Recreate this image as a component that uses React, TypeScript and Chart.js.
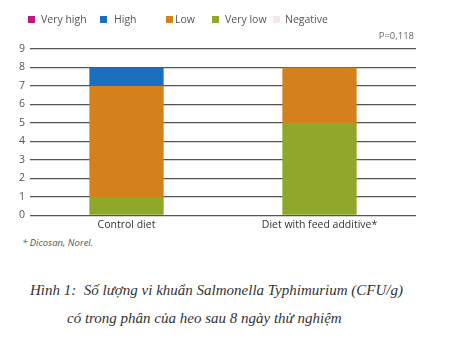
import React, { useEffect, useRef } from "react";
import { Chart, registerables } from "chart.js";

Chart.register(...registerables);

const categories = ["Control diet", "Diet with feed additive*"];
const seriesNames = ["Very high", "High", "Low", "Very low", "Negative"];
const veryHigh = [0, 0];
const high = [1, 0];
const low = [6, 3];
const veryLow = [1, 5];
const negative = [0, 0];
const yTicks = [0, 1, 2, 3, 4, 5, 6, 7, 8, 9];
const pValueText = "P=0,118";
const footnote = "* Dicosan, Norel.";
const captionLine1 = "Hình 1:  Số lượng vi khuẩn Salmonella Typhimurium (CFU/g)";
const captionLine2 = "có trong phân của heo sau 8 ngày thử nghiệm";

const colors: Record<string, string> = {
  "Very high": "#c0177c",
  High: "#1b6fc0",
  Low: "#d4801b",
  "Very low": "#8fa829",
  Negative: "#f4e6ec",
};

// legend layout (box left, text left) in px within the wrapper
const legendBoxX = [20, 92, 158, 204, 265];
const legendTextX = [33, 106, 167, 217, 277];

const pPlugin = {
  id: "pvalue",
  afterDraw(chart: any) {
    const { ctx, chartArea } = chart;
    ctx.save();
    ctx.font = "9.5px 'Open Sans'";
    ctx.fillStyle = "#666";
    ctx.textAlign = "right";
    ctx.textBaseline = "middle";
    ctx.fillText(pValueText, chartArea.right - 2, chartArea.top - 13);
    ctx.restore();
  },
};

export default function App() {
  const ref = useRef<HTMLCanvasElement>(null);
  useEffect(() => {
    if (!ref.current) return;
    const valuesByName: Record<string, number[]> = {
      "Very high": veryHigh,
      High: high,
      Low: low,
      "Very low": veryLow,
      Negative: negative,
    };
    const stackOrder = [...seriesNames].reverse();
    const chart = new Chart(ref.current, {
      type: "bar",
      data: {
        labels: categories,
        datasets: stackOrder.map((n) => ({
          label: n,
          data: valuesByName[n],
          backgroundColor: colors[n],
          borderWidth: 0,
          categoryPercentage: 1,
          barPercentage: 0.385,
        })),
      },
      options: {
        animation: false,
        responsive: false,
        layout: { padding: { left: 0, right: 51, top: 41, bottom: 0 } },
        plugins: {
          tooltip: { enabled: false },
          legend: { display: false },
        },
        scales: {
          x: {
            stacked: true,
            grid: { display: false, drawTicks: false },
            border: { display: false },
            ticks: { color: "#333", font: { family: "'Open Sans'", size: 10.5 }, padding: 3 },
          },
          y: {
            stacked: true,
            min: 0,
            max: 9,
            afterFit: (s: any) => {
              s.width = 22;
            },
            afterBuildTicks: (s: any) => {
              s.ticks = yTicks.map((v) => ({ value: v }));
            },
            border: { display: false },
            grid: { color: "#555", lineWidth: 1.3, drawTicks: false },
            ticks: {
              color: "#555",
              padding: 5,
              font: { family: "'Open Sans'", size: 10.5 },
            },
          },
        },
      },
      plugins: [pPlugin],
    });
    return () => chart.destroy();
  }, []);

  return (
    <div style={{ width: 459, position: "relative" }}>
      {seriesNames.map((n, i) => (
        <React.Fragment key={n}>
          <div
            style={{
              position: "absolute",
              left: legendBoxX[i],
              top: 8,
              width: 7,
              height: 7,
              background: colors[n],
            }}
          />
          <div
            style={{
              position: "absolute",
              left: legendTextX[i],
              top: 3,
              fontFamily: "'Open Sans'",
              fontSize: 10.5,
              lineHeight: "16px",
              color: "#555",
              whiteSpace: "nowrap",
            }}
          >
            {n}
          </div>
        </React.Fragment>
      ))}
      <canvas ref={ref} width={459} height={226} style={{ display: "block" }} />
      <div
        style={{
          fontFamily: "'Open Sans'",
          fontStyle: "italic",
          fontSize: 9.5,
          color: "#555",
          marginLeft: 14,
          marginTop: 2,
        }}
      >
        {footnote}
      </div>
      <div
        style={{
          fontFamily: "'Liberation Serif', 'Times New Roman', serif",
          fontStyle: "italic",
          fontSize: 15,
          color: "#333",
          marginLeft: 22,
          marginTop: 27,
          lineHeight: "28px",
          whiteSpace: "pre",
        }}
      >
        <div>{captionLine1}</div>
        <div style={{ marginLeft: 37 }}>{captionLine2}</div>
      </div>
    </div>
  );
}
